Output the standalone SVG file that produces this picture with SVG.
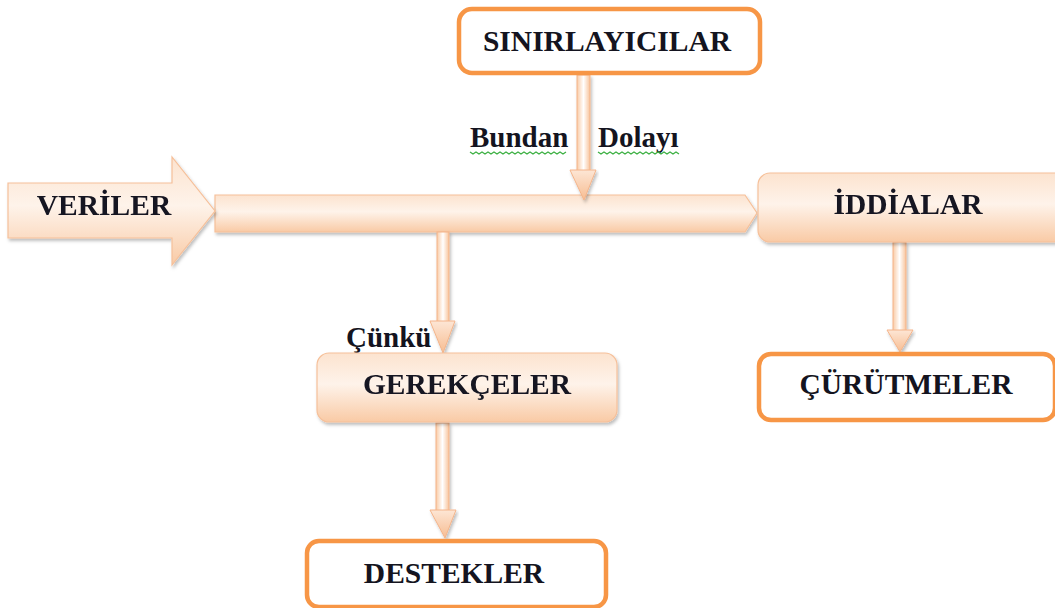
<svg xmlns="http://www.w3.org/2000/svg" width="1055" height="608" viewBox="0 0 1055 608">
<defs>
<linearGradient id="peach" x1="0" y1="0" x2="0" y2="1">
<stop offset="0" stop-color="#fce3cf"/>
<stop offset="0.45" stop-color="#fef3ea"/>
<stop offset="1" stop-color="#f9caa5"/>
</linearGradient>
<linearGradient id="shaftV" x1="0" y1="0" x2="1" y2="0">
<stop offset="0" stop-color="#f9cba6"/>
<stop offset="0.5" stop-color="#ffffff"/>
<stop offset="1" stop-color="#f8c49c"/>
</linearGradient>
<linearGradient id="headV" x1="0" y1="0" x2="0" y2="1">
<stop offset="0" stop-color="#fde6d5"/>
<stop offset="1" stop-color="#f7bd92"/>
</linearGradient>
<filter id="sh" x="-10%" y="-20%" width="120%" height="150%">
<feDropShadow dx="1.5" dy="2.5" stdDeviation="1.5" flood-color="#000" flood-opacity="0.25"/>
</filter>
<style>
.t{font-family:"Liberation Serif","Times New Roman",serif;font-weight:bold;font-size:29.5px;fill:#141420;text-anchor:middle}
.l{font-family:"Liberation Serif","Times New Roman",serif;font-weight:bold;font-size:29px;fill:#141420}
.ob{fill:#ffffff;stroke:#f79646;stroke-width:4.5}
.gb{fill:url(#peach);stroke:#f6c09a;stroke-width:1.2}
.sv{fill:url(#shaftV);stroke:#f4b48a;stroke-width:1}
.hd{fill:url(#headV);stroke:#f4b48a;stroke-width:1}
.wv{fill:none;stroke:#3cb043;stroke-width:1.3}
</style>
</defs>
<rect width="1055" height="608" fill="#ffffff"/>

<g id="connectors">
<g id="main-bar" filter="url(#sh)">
<polygon class="gb" points="215,195 745,195 757,213 745,232 215,232"/>
</g>
<g id="c-sinir" filter="url(#sh)">
<rect class="sv" x="577" y="75" width="13" height="96"/>
<polygon class="hd" points="570,170 596,170 584,200"/>
</g>
<g id="c-gerek" filter="url(#sh)">
<rect class="sv" x="437" y="232" width="12" height="90"/>
<polygon class="hd" points="430,321 455,321 443,353"/>
</g>
<g id="c-destek" filter="url(#sh)">
<rect class="sv" x="436" y="423" width="13" height="88"/>
<polygon class="hd" points="430,510 456,510 445,538"/>
</g>
<g id="c-curut" filter="url(#sh)">
<rect class="sv" x="893" y="242" width="13" height="89"/>
<polygon class="hd" points="887,330 913,330 900,352"/>
</g>
</g>

<g id="veriler" filter="url(#sh)">
<polygon class="gb" points="8,183 172,183 172,157 215,211 172,265 172,238 8,238"/>
<text class="t" x="104" y="215">VERİLER</text>
</g>

<g id="sinirlayicilar">
<rect class="ob" x="459" y="9" width="301" height="64" rx="13"/>
<text class="t" x="607" y="51">SINIRLAYICILAR</text>
</g>

<g id="bundan-dolayi">
<text class="l" x="470" y="147">Bundan</text>
<text class="l" x="598" y="147">Dolayı</text>
<path class="wv" d="M470,152 l3,2 l3,-2 l3,2 l3,-2 l3,2 l3,-2 l3,2 l3,-2 l3,2 l3,-2 l3,2 l3,-2 l3,2 l3,-2 l3,2 l3,-2 l3,2 l3,-2 l3,2 l3,-2 l3,2 l3,-2 l3,2 l3,-2 l3,2 l3,-2 l3,2 l3,-2 l3,2 l3,-2 l3,2 l3,-2"/>
<path class="wv" d="M598,152 l3,2 l3,-2 l3,2 l3,-2 l3,2 l3,-2 l3,2 l3,-2 l3,2 l3,-2 l3,2 l3,-2 l3,2 l3,-2 l3,2 l3,-2 l3,2 l3,-2 l3,2 l3,-2 l3,2 l3,-2 l3,2 l3,-2 l3,2 l3,-2 l3,2"/>
</g>

<g id="iddialar" filter="url(#sh)">
<rect class="gb" x="758" y="173" width="310" height="69" rx="12"/>
<text class="t" x="908" y="214">İDDİALAR</text>
</g>

<g id="curutmeler">
<rect class="ob" x="759" y="354" width="296" height="66" rx="12"/>
<text class="t" x="906" y="394">ÇÜRÜTMELER</text>
</g>

<g id="cunku">
<text class="l" x="346" y="347">Çünkü</text>
</g>

<g id="gerekceler" filter="url(#sh)">
<rect class="gb" x="317" y="353" width="300" height="69" rx="12"/>
<text class="t" x="467" y="394">GEREKÇELER</text>
</g>

<g id="destekler">
<rect class="ob" x="307" y="541" width="299" height="66" rx="12"/>
<text class="t" x="454" y="583">DESTEKLER</text>
</g>
</svg>
